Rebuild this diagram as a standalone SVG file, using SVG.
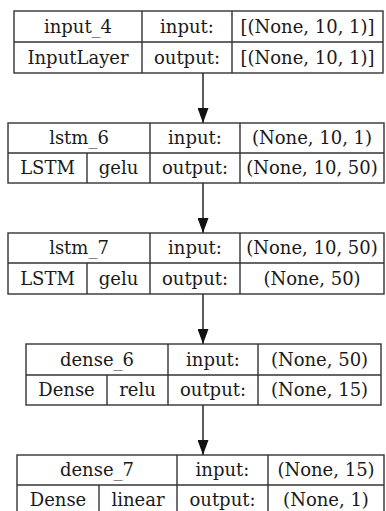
<svg xmlns="http://www.w3.org/2000/svg" width="386" height="511" viewBox="0 0 386 511">
<defs>
<style>
.box{fill:#fff;stroke:#333;stroke-width:1.4}
.ln{stroke:#333;stroke-width:1.4;fill:none}
text{font-family:"DejaVu Serif","Liberation Serif",serif;font-size:18px;fill:#1a1a1a;text-anchor:middle}
.edge{stroke:#333;stroke-width:1.6;fill:none}
</style>
<marker id="ah" markerWidth="15" markerHeight="11" refX="15" refY="5.5" orient="auto" markerUnits="userSpaceOnUse" viewBox="0 0 15 11">
<path d="M0,0 L15,5.5 L0,11 z" fill="#111"/>
</marker>
</defs>
<rect width="386" height="511" fill="#fff"/>
<g id="connectors">
<line class="edge" x1="203" y1="73" x2="203" y2="123" marker-end="url(#ah)"/>
<line class="edge" x1="203" y1="183" x2="203" y2="233" marker-end="url(#ah)"/>
<line class="edge" x1="203" y1="294" x2="203" y2="344" marker-end="url(#ah)"/>
<line class="edge" x1="203" y1="405" x2="203" y2="455" marker-end="url(#ah)"/>
</g>
<g id="input_4">
<rect class="box" x="14" y="11" width="369" height="62"/>
<line class="ln" x1="14" y1="42" x2="383" y2="42"/>
<line class="ln" x1="142" y1="11" x2="142" y2="73"/>
<line class="ln" x1="232" y1="11" x2="232" y2="73"/>
<text x="78" y="32.5">input_4</text>
<text x="187" y="32.5">input:</text>
<text x="307.5" y="32.5">[(None, 10, 1)]</text>
<text x="78" y="63.5">InputLayer</text>
<text x="187" y="63.5">output:</text>
<text x="307.5" y="63.5">[(None, 10, 1)]</text>
</g>
<g id="lstm_6">
<rect class="box" x="8" y="123" width="376" height="60"/>
<line class="ln" x1="8" y1="153" x2="384" y2="153"/>
<line class="ln" x1="87" y1="153" x2="87" y2="183"/>
<line class="ln" x1="150" y1="123" x2="150" y2="183"/>
<line class="ln" x1="240" y1="123" x2="240" y2="183"/>
<text x="79" y="144">lstm_6</text>
<text x="195" y="144">input:</text>
<text x="312" y="144">(None, 10, 1)</text>
<text x="47.5" y="174">LSTM</text>
<text x="118.5" y="174">gelu</text>
<text x="195" y="174">output:</text>
<text x="312" y="174">(None, 10, 50)</text>
</g>
<g id="lstm_7">
<rect class="box" x="8" y="233" width="376" height="61"/>
<line class="ln" x1="8" y1="263" x2="384" y2="263"/>
<line class="ln" x1="87" y1="263" x2="87" y2="294"/>
<line class="ln" x1="150" y1="233" x2="150" y2="294"/>
<line class="ln" x1="240" y1="233" x2="240" y2="294"/>
<text x="79" y="254">lstm_7</text>
<text x="195" y="254">input:</text>
<text x="312" y="254">(None, 10, 50)</text>
<text x="47.5" y="284.5">LSTM</text>
<text x="118.5" y="284.5">gelu</text>
<text x="195" y="284.5">output:</text>
<text x="312" y="284.5">(None, 50)</text>
</g>
<g id="dense_6">
<rect class="box" x="26" y="344" width="355" height="61"/>
<line class="ln" x1="26" y1="375" x2="381" y2="375"/>
<line class="ln" x1="107" y1="375" x2="107" y2="405"/>
<line class="ln" x1="168" y1="344" x2="168" y2="405"/>
<line class="ln" x1="258" y1="344" x2="258" y2="405"/>
<text x="97" y="365.5">dense_6</text>
<text x="213" y="365.5">input:</text>
<text x="319.5" y="365.5">(None, 50)</text>
<text x="66.5" y="396">Dense</text>
<text x="137.5" y="396">relu</text>
<text x="213" y="396">output:</text>
<text x="319.5" y="396">(None, 15)</text>
</g>
<g id="dense_7">
<rect class="box" x="17" y="455" width="367" height="61"/>
<line class="ln" x1="17" y1="485" x2="384" y2="485"/>
<line class="ln" x1="99" y1="485" x2="99" y2="516"/>
<line class="ln" x1="177" y1="455" x2="177" y2="516"/>
<line class="ln" x1="268" y1="455" x2="268" y2="516"/>
<text x="97" y="476">dense_7</text>
<text x="222.5" y="476">input:</text>
<text x="326" y="476">(None, 15)</text>
<text x="58" y="506">Dense</text>
<text x="138" y="506">linear</text>
<text x="222.5" y="506">output:</text>
<text x="326" y="506">(None, 1)</text>
</g>
</svg>
